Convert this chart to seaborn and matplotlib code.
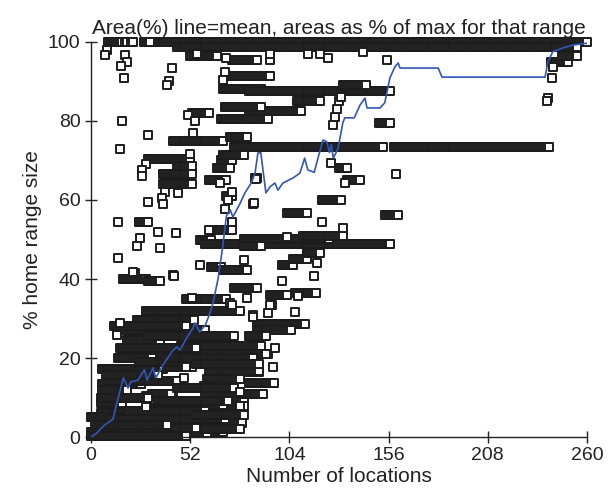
import numpy as np
import pandas as pd
import matplotlib
matplotlib.use("Agg")
import matplotlib.pyplot as plt
import seaborn as sns

# plateaus of the individual home range curves: start location, end location, % of max
band_x0 = [35, 45, 9, 18, 21, 28, 52, 74, 73, 69, 83, 108, 132, 83, 68, 70, 53, 151, 241, 247,
           43, 73, 76, 75, 159, 30, 45, 38, 38, 68, 69, 66, 62, 71, 134, 130, 121, 103, 154,
           25, 65, 57, 60, 80, 111, 100, 106, 113, 107, 94, 87, 87, 83, 83, 83, 83,
           17, 30, 63, 69, 80, 75, 50, 29, 24, 18, 19, 47, 52, 17, 14, 6, 62, 40, 6, 61,
           59, 29, 32, 6, 5, 68, 36, 30, 52, 5, 15, 52, 0, 0, 52,
           0, 3, 10, 20, 5, 10, 25, 15, 30, 40, 55, 60, 45, 55, 60, 2, 8, 35, 12]
band_x1 = [260, 255, 16, 19, 22, 31, 66, 87, 94, 89, 157, 120, 144, 110, 93, 89, 62, 157, 250, 255,
           69, 82, 89, 153, 240, 52, 53, 53, 53, 74, 80, 73, 71, 74, 141, 134, 131, 113, 161,
           30, 74, 63, 157, 125, 132, 106, 113, 120, 118, 103, 112, 105, 92, 93, 88, 96,
           29, 36, 68, 82, 89, 87, 71, 78, 54, 60, 36, 89, 92, 47, 32, 38, 88, 53, 26, 78,
           68, 43, 42, 19, 16, 80, 80, 60, 69, 22, 79, 79, 69, 60, 61,
           50, 55, 70, 60, 30, 45, 60, 55, 75, 85, 88, 90, 75, 80, 78, 40, 35, 72, 50]
band_y = [100, 98.8, 100, 100, 100, 100, 96.5, 95.4, 91.5, 88, 87.5, 85, 89, 82.5, 80.5, 83.5, 82, 79.5, 95, 96.5,
          75, 76, 73.5, 73.5, 73.5, 70.5, 68.5, 66.5, 64, 70, 71.5, 68, 65, 61, 65, 68, 60, 56.7, 56.2,
          54.5, 52.5, 50, 48.8, 50.2, 51, 43.5, 45, 46.5, 36.5, 36, 28.5, 27, 25.5, 21, 16.5, 13.8,
          40, 39.5, 43, 42.2, 48.3, 37.7, 35, 31.8, 29.6, 27, 24.5, 23, 21, 21, 20, 17.2, 16.8, 17.7, 13.5, 14.8,
          13, 10.5, 11, 11.8, 8.7, 9.8, 7.8, 7.3, 8, 6, 3.7, 3.5, 1.2, 5, 1,
          0.3, 2.4, 4.6, 6.5, 10, 14.3, 19, 22.5, 25.6, 20, 18.5, 11, 12.5, 5.5, 2, 3, 15.8, 9, 28]

# single locations off the plateaus
pt_x = [8.4, 7.3, 17.8, 18.9, 15.7, 17.3, 42.5, 41, 40, 70, 69, 94, 120, 142.6, 155, 127, 128, 129, 130, 131,
        51, 54.5, 16, 30, 53.5, 15, 52, 29, 27, 26.7, 39, 37, 30, 38, 45.6, 86, 85, 14, 126, 133,
        160, 121, 132, 87, 35, 44.5, 25.7, 24, 36, 14, 23, 43, 53, 67.6, 74, 72, 70, 86.5, 85.4, 74,
        62, 102.7, 118.5, 117, 108.5, 100, 95, 93, 107, 96.4, 95.4, 94, 85, 73, 78, 78, 22, 43.5, 57, 80,
        82, 85, 74, 15, 13.6, 50, 49, 29, 242, 241.6, 239.5, 239, 55.5, 71, 94, 114, 124]
pt_y = [98, 96.7, 96.7, 95, 94, 90.9, 93.4, 90, 89, 92.4, 90.4, 95.4, 97, 97.5, 95.4, 79, 81, 83, 85, 86,
        81.5, 80, 80, 76.5, 77, 73, 71.6, 69, 67.6, 66, 62, 60.5, 59.5, 59, 61.8, 65.6, 59, 54.4, 69.4, 64.3,
        66.6, 54.4, 53, 65.6, 52, 51.6, 50.4, 48.4, 47.8, 45.3, 41.5, 41, 35.2, 64.3, 62, 60, 57.7, 65.3, 59.2, 54.4,
        52.4, 50.6, 44, 40.8, 35.7, 39.5, 33.4, 31.4, 31.6, 22.5, 17.7, 33.4, 31, 34, 11.4, 7.8, 41.8, 40.8, 43.5, 44.8,
        35.2, 30.4, 33.4, 28.8, 25.8, 17.7, 15, 7.6, 93.7, 91, 85.8, 85, 97, 96, 97, 97, 96]

# mean line
mean_x = [0, 3, 7, 11.5, 14, 17, 19.4, 21, 24.6, 28, 29.4, 32.5, 34, 37.7, 43, 45, 46.6, 51, 53.5, 54.5,
          57, 60, 62.4, 64, 66.6, 69, 71, 73, 74.4, 78, 80.7, 84, 86, 87.5, 89, 91.7, 93.8, 96.4, 98, 100.6,
          106, 109.5, 112, 113.7, 117, 119, 121.6, 123.7, 125, 126, 127, 129.5, 132, 133, 138, 141, 143.6, 144.7,
          151.5, 154, 155.7, 156.7, 159.3, 161, 162, 182, 184, 238, 239.5, 242, 247.4, 252.6, 260]
mean_y = [0, 1, 3, 4.5, 9.4, 15, 12.4, 14, 14.4, 17, 14.4, 17.5, 15, 18.2, 22, 22.8, 22, 25.8, 27.6, 28.9,
          26.6, 28.4, 31.4, 34, 40, 48, 56, 57.5, 55.7, 59, 61.8, 64.3, 66.8, 71.9, 72, 61.8, 63.3, 64.3, 62.5, 64.3,
          65.6, 66.8, 70.6, 67.6, 67, 70.6, 75.2, 74.7, 72, 74, 70.6, 73, 79.5, 80.8, 80.8, 84, 85.8, 83.3,
          83.3, 84.6, 88.6, 90.9, 93.7, 94.7, 93.4, 93.4, 91.1, 91.1, 94.9, 97.5, 98.5, 99.2, 99.7]

rows = []
for x0, x1, y in zip(band_x0, band_x1, band_y):
    for x in range(x0, x1 + 1):
        rows.append((x, y))
for x, y in zip(pt_x, pt_y):
    rows.append((x, y))
df = pd.DataFrame(rows, columns=["locations", "area"])
mean_df = pd.DataFrame({"locations": mean_x, "area": mean_y})

sns.set_style("ticks")
plt.rcParams["font.family"] = ["Liberation Sans", "DejaVu Sans"]

fig = plt.figure(figsize=(6.16, 5.04), dpi=100)
ax = fig.add_axes([0.1477, 0.1329, 0.8052, 0.7838])

sns.scatterplot(data=df, x="locations", y="area", marker="s", s=30,
                facecolor="white", edgecolor="#1c1c1c", linewidth=1.4,
                ax=ax, clip_on=False, zorder=2)
sns.lineplot(data=mean_df, x="locations", y="area", sort=False, estimator=None,
             color="#3256b5", linewidth=1.2, ax=ax, zorder=3)

ax.set_xlim(0, 260)
ax.set_ylim(0, 100)
ax.set_xticks([0, 52, 104, 156, 208, 260])
ax.set_yticks([0, 20, 40, 60, 80, 100])
ax.tick_params(direction="inout", length=8, width=1, labelsize=14, colors="#222222")
for side in ["top", "right"]:
    ax.spines[side].set_visible(False)
for side in ["left", "bottom"]:
    ax.spines[side].set_color("#222222")
    ax.spines[side].set_linewidth(1)

ax.set_xlabel("Number of locations", fontsize=15, color="#222222", labelpad=2)
ax.set_ylabel("% home range size", fontsize=15, color="#222222")
ax.set_title("Area(%) line=mean, areas as % of max for that range", fontsize=15,
             color="#222222", pad=6)

fig.savefig("out.png", dpi=100)
